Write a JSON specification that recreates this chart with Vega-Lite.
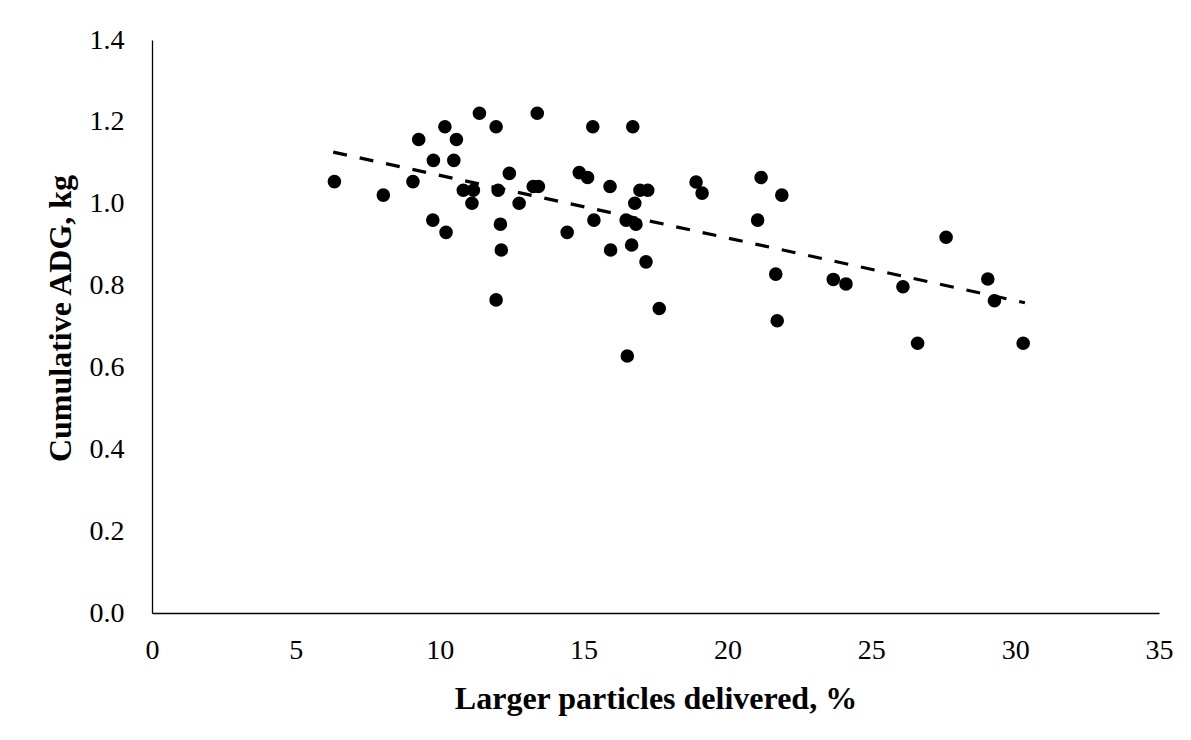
{
  "$schema": "https://vega.github.io/schema/vega-lite/v6.json",
  "width": 1007,
  "height": 573,
  "autosize": "none",
  "padding": {"left": 152, "top": 40, "right": 32, "bottom": 127},
  "background": "white",
  "config": {
    "view": {"stroke": null},
    "font": "Liberation Serif",
    "axis": {
      "labelFont": "Liberation Serif",
      "titleFont": "Liberation Serif",
      "labelFontSize": 28,
      "titleFontSize": 32,
      "labelColor": "black",
      "titleColor": "black",
      "titleFontWeight": "bold",
      "domainColor": "black",
      "domainWidth": 1.3,
      "ticks": false,
      "grid": false,
      "labelFlush": false,
      "labelOverlap": false
    }
  },
  "datasets": {
    "points": [
      {"pct": 6.34, "adg": 1.054},
      {"pct": 8.04, "adg": 1.021},
      {"pct": 9.07, "adg": 1.054},
      {"pct": 9.27, "adg": 1.157},
      {"pct": 10.18, "adg": 1.188},
      {"pct": 10.58, "adg": 1.157},
      {"pct": 9.78, "adg": 1.106},
      {"pct": 10.49, "adg": 1.106},
      {"pct": 9.76, "adg": 0.960},
      {"pct": 10.22, "adg": 0.930},
      {"pct": 11.38, "adg": 1.221},
      {"pct": 11.96, "adg": 1.188},
      {"pct": 12.42, "adg": 1.074},
      {"pct": 10.82, "adg": 1.033},
      {"pct": 11.17, "adg": 1.033},
      {"pct": 11.12, "adg": 1.001},
      {"pct": 12.03, "adg": 1.033},
      {"pct": 12.76, "adg": 1.001},
      {"pct": 13.25, "adg": 1.042},
      {"pct": 13.43, "adg": 1.042},
      {"pct": 13.39, "adg": 1.221},
      {"pct": 12.11, "adg": 0.950},
      {"pct": 12.14, "adg": 0.887},
      {"pct": 11.96, "adg": 0.765},
      {"pct": 15.32, "adg": 1.188},
      {"pct": 16.71, "adg": 1.188},
      {"pct": 14.85, "adg": 1.076},
      {"pct": 15.14, "adg": 1.064},
      {"pct": 15.92, "adg": 1.042},
      {"pct": 16.96, "adg": 1.033},
      {"pct": 17.23, "adg": 1.033},
      {"pct": 16.78, "adg": 1.001},
      {"pct": 18.91, "adg": 1.053},
      {"pct": 19.12, "adg": 1.026},
      {"pct": 21.17, "adg": 1.064},
      {"pct": 21.89, "adg": 1.021},
      {"pct": 21.05, "adg": 0.960},
      {"pct": 15.36, "adg": 0.960},
      {"pct": 14.43, "adg": 0.930},
      {"pct": 16.48, "adg": 0.960},
      {"pct": 16.82, "adg": 0.950},
      {"pct": 15.94, "adg": 0.887},
      {"pct": 16.67, "adg": 0.899},
      {"pct": 17.17, "adg": 0.858},
      {"pct": 17.63, "adg": 0.744},
      {"pct": 16.52, "adg": 0.628},
      {"pct": 21.68, "adg": 0.828},
      {"pct": 21.73, "adg": 0.714},
      {"pct": 23.68, "adg": 0.815},
      {"pct": 24.12, "adg": 0.804},
      {"pct": 26.10, "adg": 0.797},
      {"pct": 27.60, "adg": 0.918},
      {"pct": 29.05, "adg": 0.816},
      {"pct": 29.28, "adg": 0.763},
      {"pct": 26.61, "adg": 0.659},
      {"pct": 30.28, "adg": 0.659}
    ],
    "trend": [
      {"pct": 6.3, "adg": 1.126},
      {"pct": 30.34, "adg": 0.758}
    ]
  },
  "layer": [
    {
      "data": {"name": "points"},
      "mark": {"type": "circle", "size": 185, "color": "black", "opacity": 1},
      "encoding": {
        "x": {
          "field": "pct",
          "type": "quantitative",
          "scale": {"domain": [0, 35], "nice": false, "zero": true},
          "axis": {
            "title": "Larger particles delivered, %",
            "values": [0, 5, 10, 15, 20, 25, 30, 35],
            "labelPadding": 23,
            "titleY": 95,
            "titleBaseline": "alphabetic",
            "titleAlign": "center"
          }
        },
        "y": {
          "field": "adg",
          "type": "quantitative",
          "scale": {"domain": [0, 1.4], "nice": false},
          "axis": {
            "title": "Cumulative ADG, kg",
            "values": [0, 0.2, 0.4, 0.6, 0.8, 1.0, 1.2, 1.4],
            "format": ".1f",
            "labelPadding": 28,
            "titleAngle": -90,
            "titleX": -82,
            "titleY": 278,
            "titleAlign": "center",
            "titleBaseline": "alphabetic"
          }
        }
      }
    },
    {
      "data": {"name": "trend"},
      "mark": {"type": "line", "color": "black", "strokeWidth": 3.2, "strokeDash": [14, 13]},
      "encoding": {
        "x": {"field": "pct", "type": "quantitative"},
        "y": {"field": "adg", "type": "quantitative"}
      }
    }
  ]
}
